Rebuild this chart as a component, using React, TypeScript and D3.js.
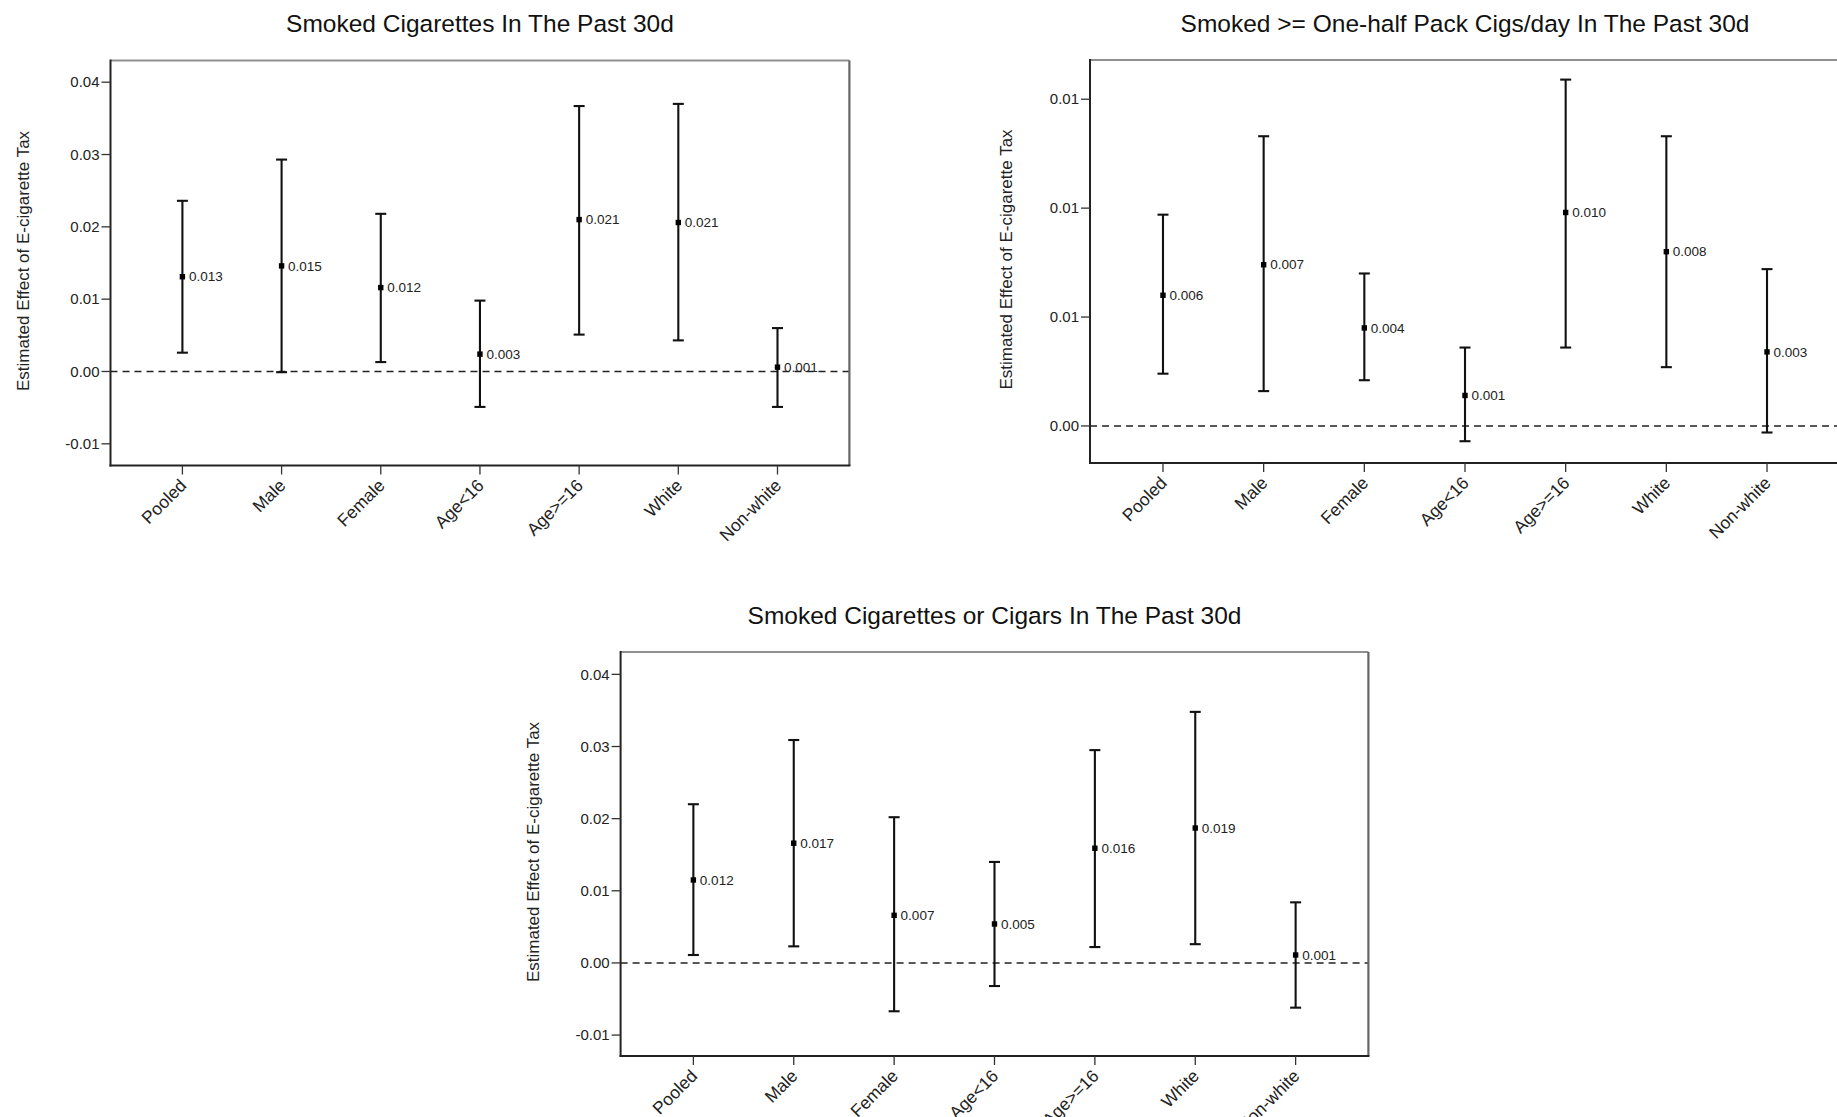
import React from "react";
import * as d3 from "d3";

const categories = ["Pooled", "Male", "Female", "Age<16", "Age>=16", "White", "Non-white"];

// Panel 1: Smoked Cigarettes In The Past 30d
const est1 = [0.0131, 0.0146, 0.0116, 0.0024, 0.021, 0.0206, 0.0006];
const lo1 = [0.0026, -0.0001, 0.0013, -0.0049, 0.0051, 0.0043, -0.0049];
const hi1 = [0.0236, 0.0293, 0.0218, 0.0098, 0.0367, 0.037, 0.006];
const lab1 = ["0.013", "0.015", "0.012", "0.003", "0.021", "0.021", "0.001"];

// Panel 2: Smoked >= One-half Pack Cigs/day In The Past 30d
const est2 = [0.006, 0.0074, 0.0045, 0.0014, 0.0098, 0.008, 0.0034];
const lo2 = [0.0024, 0.0016, 0.0021, -0.0007, 0.0036, 0.0027, -0.0003];
const hi2 = [0.0097, 0.0133, 0.007, 0.0036, 0.0159, 0.0133, 0.0072];
const lab2 = ["0.006", "0.007", "0.004", "0.001", "0.010", "0.008", "0.003"];

// Panel 3: Smoked Cigarettes or Cigars In The Past 30d
const est3 = [0.0115, 0.0166, 0.0066, 0.0054, 0.0159, 0.0187, 0.0011];
const lo3 = [0.0011, 0.0023, -0.0067, -0.0032, 0.0022, 0.0026, -0.0062];
const hi3 = [0.022, 0.0309, 0.0202, 0.014, 0.0295, 0.0348, 0.0084];
const lab3 = ["0.012", "0.017", "0.007", "0.005", "0.016", "0.019", "0.001"];

const ticksA = [-0.01, 0, 0.01, 0.02, 0.03, 0.04];
const tickLabA = ["-0.01", "0.00", "0.01", "0.02", "0.03", "0.04"];
const ticksB = [0, 0.005, 0.01, 0.015];
const tickLabB = ["0.00", "0.01", "0.01", "0.01"];

const titles = [
  "Smoked Cigarettes In The Past 30d",
  "Smoked >= One-half Pack Cigs/day In The Past 30d",
  "Smoked Cigarettes or Cigars In The Past 30d",
];
const yAxisTitle = "Estimated Effect of E-cigarette Tax";

const FONT = "'Liberation Sans', Arial, Helvetica, sans-serif";

type PanelProps = {
  title: string;
  est: number[];
  lo: number[];
  hi: number[];
  labels: string[];
  ticks: number[];
  tickLabels: string[];
  domain: [number, number];
  left: number;
  right: number;
  top: number;
  bottom: number;
  yLabelX: number;
};

function Panel(p: PanelProps) {
  const x = d3.scalePoint<string>().domain(categories).range([p.left, p.right]).padding(0.725);
  const y = d3.scaleLinear().domain(p.domain).range([p.bottom, p.top]);
  const cx = (p.left + p.right) / 2;
  const cy = (p.top + p.bottom) / 2;
  const ink = "#111";
  return (
    <g>
      <text x={cx} y={p.top - 28.5} textAnchor="middle" fontSize={24.5} fill="#111" fontFamily={FONT}>
        {p.title}
      </text>
      <text
        transform={`translate(${p.yLabelX},${cy - 2}) rotate(-90)`}
        textAnchor="middle"
        dy="0.35em"
        fontSize={17}
        fill="#222"
        fontFamily={FONT}
      >
        {yAxisTitle}
      </text>
      {/* zero reference line */}
      <line
        x1={p.left}
        x2={p.right}
        y1={y(0)}
        y2={y(0)}
        stroke="#222"
        strokeWidth={1.6}
        strokeDasharray="7,5"
      />
      {/* frame */}
      <line x1={p.left} x2={p.right} y1={p.top} y2={p.top} stroke="#8f8f8f" strokeWidth={2} />
      <line x1={p.right} x2={p.right} y1={p.top} y2={p.bottom} stroke="#666" strokeWidth={2.2} />
      <line x1={p.left} x2={p.left} y1={p.top - 1} y2={p.bottom + 1} stroke="#222" strokeWidth={2} />
      <line x1={p.left - 1} x2={p.right + 1} y1={p.bottom} y2={p.bottom} stroke="#222" strokeWidth={2} />
      {/* y ticks */}
      {p.ticks.map((t, i) => (
        <g key={"yt" + i}>
          <line x1={p.left - 9} x2={p.left} y1={y(t)} y2={y(t)} stroke="#333" strokeWidth={1.3} />
          <text
            x={p.left - 11}
            y={y(t)}
            dy="0.35em"
            textAnchor="end"
            fontSize={15}
            fill="#222"
            fontFamily={FONT}
          >
            {p.tickLabels[i]}
          </text>
        </g>
      ))}
      {/* x ticks */}
      {categories.map((c) => (
        <g key={"xt" + c}>
          <line x1={x(c)} x2={x(c)} y1={p.bottom} y2={p.bottom + 9} stroke="#333" strokeWidth={1.3} />
          <text
            transform={`translate(${(x(c) as number) + 5},${p.bottom + 21}) rotate(-45)`}
            textAnchor="end"
            fontSize={17.5}
            fill="#222"
            fontFamily={FONT}
          >
            {c}
          </text>
        </g>
      ))}
      {/* error bars */}
      {categories.map((c, i) => {
        const xc = x(c) as number;
        return (
          <g key={"eb" + c}>
            <line x1={xc} x2={xc} y1={y(p.lo[i])} y2={y(p.hi[i])} stroke={ink} strokeWidth={2.1} />
            <line x1={xc - 5.5} x2={xc + 5.5} y1={y(p.lo[i])} y2={y(p.lo[i])} stroke={ink} strokeWidth={2.1} />
            <line x1={xc - 5.5} x2={xc + 5.5} y1={y(p.hi[i])} y2={y(p.hi[i])} stroke={ink} strokeWidth={2.1} />
            <rect x={xc - 2.7} y={y(p.est[i]) - 2.7} width={5.4} height={5.4} fill="#000" />
            <text
              x={xc + 6.5}
              y={y(p.est[i])}
              dy="0.35em"
              fontSize={13.5}
              fill="#222"
              fontFamily={FONT}
            >
              {p.labels[i]}
            </text>
          </g>
        );
      })}
    </g>
  );
}

export default function App() {
  return (
    <svg
      width={1837}
      height={1117}
      style={{ position: "absolute", left: 0, top: 0, background: "#fff" }}
    >
      <rect x={0} y={0} width={1837} height={1117} fill="#fff" />
      <Panel
        title={titles[0]}
        est={est1}
        lo={lo1}
        hi={hi1}
        labels={lab1}
        ticks={ticksA}
        tickLabels={tickLabA}
        domain={[-0.013, 0.043]}
        left={110.5}
        right={849.4}
        top={60.5}
        bottom={465.5}
        yLabelX={23}
      />
      <Panel
        title={titles[1]}
        est={est2}
        lo={lo2}
        hi={hi2}
        labels={lab2}
        ticks={ticksB}
        tickLabels={tickLabB}
        domain={[-0.0017, 0.0168]}
        left={1090}
        right={1840}
        top={60}
        bottom={463}
        yLabelX={1006}
      />
      <Panel
        title={titles[2]}
        est={est3}
        lo={lo3}
        hi={hi3}
        labels={lab3}
        ticks={ticksA}
        tickLabels={tickLabA}
        domain={[-0.0129, 0.0431]}
        left={620.6}
        right={1368.4}
        top={652}
        bottom={1056}
        yLabelX={532.8}
      />
    </svg>
  );
}
